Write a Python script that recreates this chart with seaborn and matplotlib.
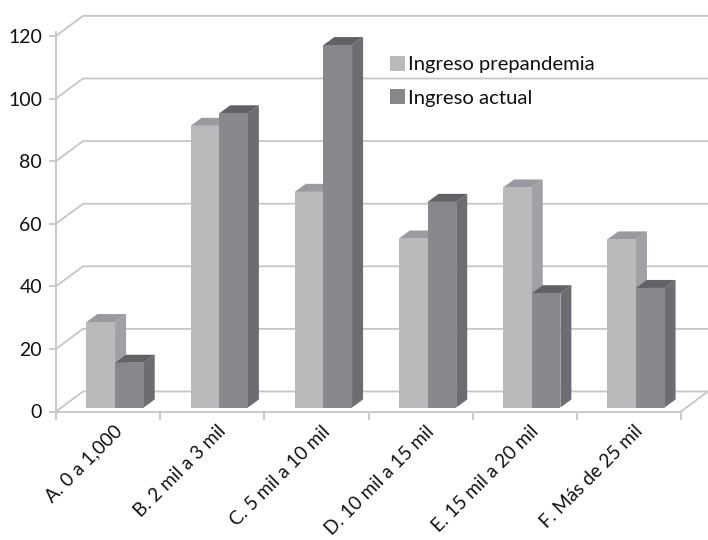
import matplotlib
matplotlib.use('Agg')
import matplotlib.pyplot as plt
from matplotlib.patches import Polygon
from matplotlib.transforms import ScaledTranslation
import pandas as pd
import seaborn as sns

categories = ['A. 0 a 1,000', 'B. 2 mil a 3 mil', 'C. 5 mil a 10 mil',
              'D. 10 mil a 15 mil', 'E. 15 mil a 20 mil', 'F. Más de 25 mil']
prepandemia = [27.3, 90, 68.9, 54, 70.3, 53.7]
actual = [14.3, 94, 115.8, 65.7, 36.5, 38.2]
series_names = ['Ingreso prepandemia', 'Ingreso actual']
y_ticks = [0, 20, 40, 60, 80, 100, 120]

front_cols = ['#B9BABC', '#87888C']
side_cols = ['#A0A1A4', '#6C6D71']
top_cols = ['#9A9B9E', '#616266']
grid_col = '#C6C6C6'

sns.set_style('white')
plt.rcParams['font.family'] = ['Lato', 'DejaVu Sans']

W, H = 708, 540
fig = plt.figure(figsize=(W / 100, H / 100), dpi=100)
ax = fig.add_axes([56 / W, 1 - 411.5 / H, 625 / W, 379.5 / H])

df = pd.DataFrame({
    'cat': categories * 2,
    'val': prepandemia + actual,
    'serie': [series_names[0]] * 6 + [series_names[1]] * 6,
})
sns.barplot(data=df, x='cat', y='val', hue='serie', palette=front_cols, width=0.55,
            saturation=1, gap=0, ax=ax, zorder=3, edgecolor='none', linewidth=0)
ax.set_xlim(-0.5, 5.5)
ax.set_ylim(0, 379.5 / 3.13)
ax.set_xlabel('')
ax.set_ylabel('')

# pixel -> data sizes for the fake 3d
px_x = 6 / 625
px_y = 1 / 3.13
wall_dx, wall_dy = 27 * px_x, 20 * px_y
bar_dx, bar_dy = 11 * px_x, 8 * px_y
shift_x, shift_y = 7 * px_x, 4 * px_y

# back wall
for t in y_ticks:
    ax.plot([-0.5, -0.5 + wall_dx, 5.5 + wall_dx], [t, t + wall_dy, t + wall_dy],
            color=grid_col, lw=1.3, clip_on=False, zorder=1)
ax.plot([5.5, 5.5 + wall_dx], [0, wall_dy], color=grid_col, lw=1.3, clip_on=False, zorder=1)

# depth faces on each bar
for i, cont in enumerate(ax.containers):
    for p in cont:
        p.set_x(p.get_x() + shift_x)
        p.set_y(shift_y)
        p.set_zorder(3 + 2 * i + 0.5)
        x0 = p.get_x()
        x1 = x0 + p.get_width()
        b = shift_y
        t = b + p.get_height()
        side = Polygon([(x1, b), (x1 + bar_dx, b + bar_dy), (x1 + bar_dx, t + bar_dy), (x1, t)],
                       fc=side_cols[i], ec='none', clip_on=False, zorder=3 + 2 * i)
        top = Polygon([(x0, t), (x0 + bar_dx, t + bar_dy), (x1 + bar_dx, t + bar_dy), (x1, t)],
                      fc=top_cols[i], ec='none', clip_on=False, zorder=3 + 2 * i)
        ax.add_patch(side)
        ax.add_patch(top)

sns.despine(ax=ax)
for s in ['left', 'bottom']:
    ax.spines[s].set_color(grid_col)
    ax.spines[s].set_linewidth(1.3)
    ax.spines[s].set_zorder(2)

ax.set_yticks(y_ticks)
ax.tick_params(axis='y', length=5, width=1.3, color=grid_col, labelsize=14, pad=5,
               labelcolor='#111111', left=True)
ax.set_xticks([i - 0.5 for i in range(7)], labels=[''] * 7)
ax.tick_params(axis='x', which='major', length=6, width=1.3, color=grid_col, bottom=True)
ax.set_xticks(range(6), labels=categories, minor=True)
ax.tick_params(axis='x', which='minor', length=0, labelsize=13.6, pad=8, labelcolor='#111111')
shift = ScaledTranslation(5 / 100, 0, fig.dpi_scale_trans)
for lab in ax.get_xticklabels(minor=True):
    lab.set_rotation(45)
    lab.set_ha('right')
    lab.set_rotation_mode('anchor')
    lab.set_transform(lab.get_transform() + shift)

leg = ax.legend(frameon=False, loc='upper left', bbox_to_anchor=(334 / 625, 1 - 24 / 379.5),
                fontsize=14.6, handlelength=0.75, handleheight=0.75, handletextpad=0.15,
                labelspacing=0.78, borderpad=0, borderaxespad=0)
for t in leg.get_texts():
    t.set_color('#111111')

fig.savefig('out.png', dpi=100)
